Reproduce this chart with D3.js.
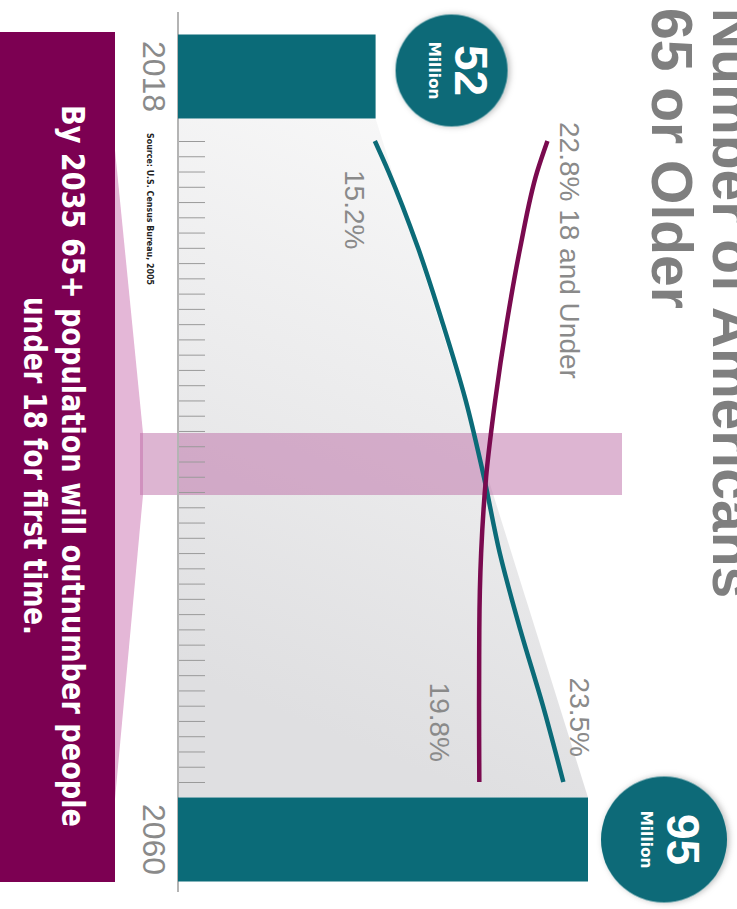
<!DOCTYPE html>
<html>
<head>
<meta charset="utf-8">
<script src="https://cdn.jsdelivr.net/npm/d3@7"></script>
<style>
  html, body { margin: 0; padding: 0; background: #fff; }
  svg { display: block; }
</style>
</head>
<body>
<svg id="chart" width="737" height="909"></svg>
<script>
// Share of the U.S. population by age group (percent), projection years
const years        = [2018, 2020, 2025, 2030, 2035, 2040, 2045, 2050, 2055, 2060];
const share65Plus  = [15.2, 15.8, 17.1, 18.2, 19.2, 20.0, 20.7, 21.6, 22.6, 23.5];
const shareUnder18 = [22.8, 22.35, 21.6, 21.0, 20.5, 20.1, 19.88, 19.8, 19.79, 19.8];

// Americans aged 65 or older (millions)
const barYears    = [2018, 2060];
const barMillions = [52, 95];

// Yearly tick marks along the time axis
const tickYears = d3.range(2018, 2061);

const titleLines   = ["Number of Americans", "65 or Older"];
const calloutLines = ["By 2035 65+ population will outnumber people", "under 18 for first time."];
const sourceNote   = "Source: U.S. Census Bureau, 2005";

// ---- colours ----
const TEAL = "#0b6b78";
const PLUM = "#7c0052";
const PLUM_LINE = "#7a0a4f";
const GREY_TEXT = "#8a8a8a";
const TITLE_GREY = "#7f7f7f";

// The graphic is laid out in a 909 x 737 landscape frame and turned a quarter clockwise.
const svg = d3.select("#chart");
const defs = svg.append("defs");

const grad = defs.append("linearGradient")
  .attr("id", "fade").attr("x1", 0).attr("y1", 0).attr("x2", 1).attr("y2", 0.25);
grad.append("stop").attr("offset", 0).attr("stop-color", "#fafafa");
grad.append("stop").attr("offset", 1).attr("stop-color", "#dfdfe1");

const shadow = defs.append("filter").attr("id", "soft")
  .attr("x", "-30%").attr("y", "-30%").attr("width", "160%").attr("height", "160%");
shadow.append("feDropShadow")
  .attr("dx", 0).attr("dy", -2).attr("stdDeviation", 3)
  .attr("flood-color", "#000").attr("flood-opacity", 0.28);

const g = svg.append("g").attr("transform", "translate(737,0) rotate(90)");

const baseline = 559;
const barWidth = 84;

// scales
const xYear = d3.scaleLinear().domain([2018, 2060]).range([141, 782]);
const xBar  = d3.scaleLinear().domain([2018, 2060]).range([76.5, 839.5]);
const yVal  = d3.scaleLinear().domain([12, 95]).range([baseline, 149]);
const yPct  = d3.scaleLinear().domain([15, 25]).range([366.7, 139.6]);

// shaded wedge joining the two bar tops
const leftEdge  = xBar(barYears[0]) + barWidth / 2;
const rightEdge = xBar(barYears[1]) - barWidth / 2;
g.append("path")
  .attr("d", d3.line()([
    [leftEdge, baseline],
    [leftEdge, yVal(barMillions[0])],
    [rightEdge, yVal(barMillions[1])],
    [rightEdge, baseline]
  ]) + "Z")
  .attr("fill", "url(#fade)");

// callout box with its funnel toward the crossover band
const bandX0 = 433, bandX1 = 495;
g.append("path")
  .attr("d", d3.line()([[140, 623], [bandX0, 594], [bandX1, 594], [810, 623]]) + "Z")
  .attr("fill", "#e4b7d7");

g.append("rect")
  .attr("x", bandX0).attr("y", 115)
  .attr("width", bandX1 - bandX0).attr("height", 597 - 115)
  .attr("fill", "rgba(188,108,165,0.5)");

g.append("rect")
  .attr("x", 32).attr("y", 622)
  .attr("width", 850).attr("height", 115)
  .attr("fill", PLUM);

// time axis: yearly ticks rising from the baseline
const axis = d3.axisTop(xYear).tickValues(tickYears).tickSize(27).tickSizeOuter(0).tickFormat("");
const axG = g.append("g").attr("transform", `translate(0,${baseline})`).call(axis);
axG.select(".domain").remove();
axG.selectAll(".tick line").attr("stroke", "#9a9a9a").attr("stroke-width", 1);

g.append("line")
  .attr("x1", 12).attr("x2", 892)
  .attr("y1", baseline).attr("y2", baseline)
  .attr("stroke", "#b4b4b4").attr("stroke-width", 2);

// bars
g.selectAll("rect.bar")
  .data(barYears.map((y, i) => ({ year: y, value: barMillions[i] })))
  .join("rect")
  .attr("class", "bar")
  .attr("x", d => xBar(d.year) - barWidth / 2)
  .attr("width", barWidth)
  .attr("y", d => yVal(d.value))
  .attr("height", d => baseline - yVal(d.value))
  .attr("fill", TEAL);

// share lines
const line = d3.line()
  .x((d, i) => xYear(years[i]))
  .y(d => yPct(d))
  .curve(d3.curveMonotoneX);

g.append("path").datum(share65Plus)
  .attr("d", line).attr("fill", "none")
  .attr("stroke", TEAL).attr("stroke-width", 4.5);

g.append("path").datum(shareUnder18)
  .attr("d", line).attr("fill", "none")
  .attr("stroke", PLUM_LINE).attr("stroke-width", 4.5);

// end labels on the lines
const pctFont = "'Liberation Sans', Arial, sans-serif";
const last = years.length - 1;
const endLabels = [
  { text: share65Plus[0].toFixed(1) + "%", x: xYear(years[0]) + 29, y: yPct(share65Plus[0]) + 30 },
  { text: shareUnder18[0].toFixed(1) + "% 18 and Under", x: xYear(years[0]) - 19, y: yPct(shareUnder18[0]) - 13 },
  { text: share65Plus[last].toFixed(1) + "%", x: xYear(years[last]) - 25, y: yPct(share65Plus[last]) - 7, anchor: "end" },
  { text: shareUnder18[last].toFixed(1) + "%", x: xYear(years[last]) - 20, y: yPct(shareUnder18[last]) + 49, anchor: "end" }
];
g.selectAll("text.pct")
  .data(endLabels)
  .join("text")
  .attr("class", "pct")
  .attr("x", d => d.x).attr("y", d => d.y)
  .attr("text-anchor", d => d.anchor || "start")
  .attr("font-family", pctFont).attr("font-size", 28)
  .attr("fill", GREY_TEXT)
  .text(d => d.text);

// value badges above the bars
const badgeR = [56, 63];
const badgeShift = [-6, 0];
const badges = g.selectAll("g.badge")
  .data(barYears.map((y, i) => ({ year: y, value: barMillions[i], r: badgeR[i], dx: badgeShift[i] })))
  .join("g")
  .attr("class", "badge")
  .attr("transform", d => `translate(${xBar(d.year) + d.dx},${yVal(d.value) - 76})`);

badges.append("circle")
  .attr("r", d => d.r)
  .attr("fill", TEAL)
  .attr("filter", "url(#soft)");

badges.append("text")
  .attr("y", -3)
  .attr("text-anchor", "middle")
  .attr("font-family", "'Liberation Sans', Arial, sans-serif")
  .attr("font-weight", "bold").attr("font-size", 46)
  .attr("fill", "#fff")
  .text(d => d.value);

badges.append("text")
  .attr("y", 23)
  .attr("text-anchor", "middle")
  .attr("font-family", "'Liberation Sans Narrow', 'Arial Narrow', 'DejaVu Sans Condensed', sans-serif")
  .attr("font-weight", "bold").attr("font-size", 16)
  .attr("textLength", 58).attr("lengthAdjust", "spacingAndGlyphs")
  .attr("fill", "#fff")
  .text("Million");

// year labels under the bars
g.selectAll("text.year")
  .data(barYears)
  .join("text")
  .attr("class", "year")
  .attr("x", d => xBar(d)).attr("y", 594)
  .attr("text-anchor", "middle")
  .attr("font-family", pctFont).attr("font-size", 32)
  .attr("fill", GREY_TEXT)
  .text(d => d);

// source note
g.append("text")
  .attr("x", 133).attr("y", 590)
  .attr("font-family", "'Liberation Sans Narrow', 'Arial Narrow', 'DejaVu Sans Condensed', sans-serif")
  .attr("font-weight", "bold").attr("font-size", 9)
  .attr("textLength", 152).attr("lengthAdjust", "spacingAndGlyphs")
  .attr("fill", "#222")
  .text(sourceNote);

// title
g.selectAll("text.title")
  .data(titleLines)
  .join("text")
  .attr("class", "title")
  .attr("x", 8).attr("y", (d, i) => 24 + i * 61)
  .attr("font-family", "'Liberation Sans', Arial, sans-serif")
  .attr("font-weight", "bold").attr("font-size", 57)
  .attr("fill", TITLE_GREY)
  .text(d => d);

// callout text
const calloutLen = [722, 338];
g.selectAll("text.callout")
  .data(calloutLines)
  .join("text")
  .attr("class", "callout")
  .attr("x", 466).attr("y", (d, i) => 675 + i * 38)
  .attr("text-anchor", "middle")
  .attr("font-family", "'Liberation Sans Narrow', 'Arial Narrow', 'DejaVu Sans Condensed', sans-serif")
  .attr("font-weight", "bold").attr("font-size", 32)
  .attr("textLength", (d, i) => calloutLen[i]).attr("lengthAdjust", "spacingAndGlyphs")
  .attr("fill", "#fff")
  .text(d => d);
</script>
</body>
</html>
